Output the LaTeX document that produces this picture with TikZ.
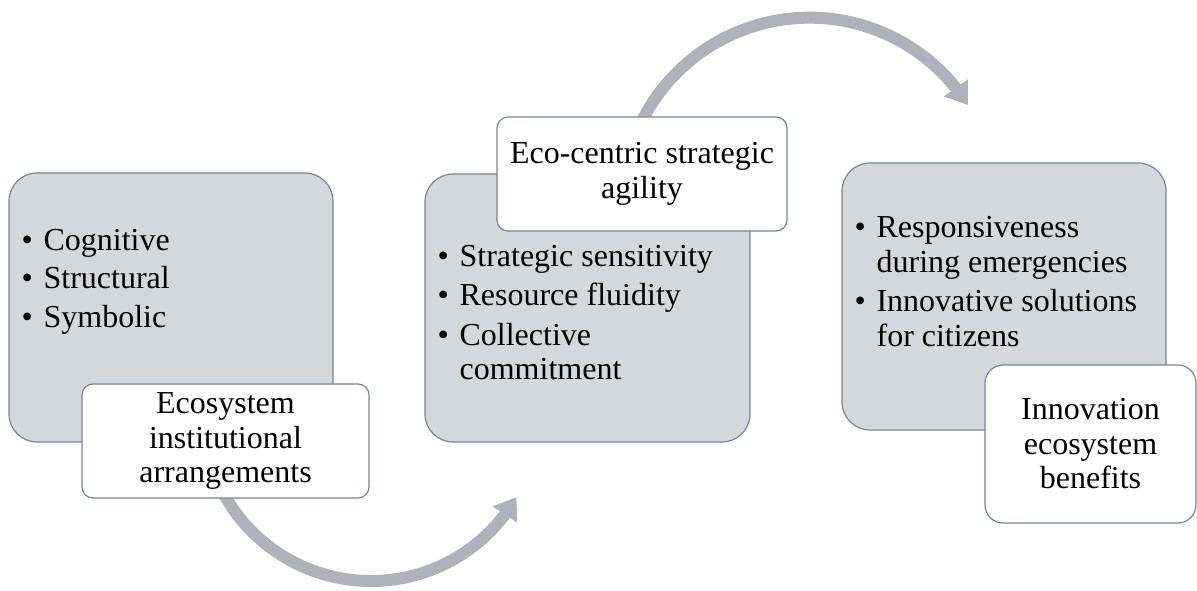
\documentclass[tikz,border=0pt]{standalone}
\usepackage{fontspec}
\setmainfont{Liberation Serif}
\usetikzlibrary{arrows.meta,bending}

\definecolor{boxfill}{RGB}{214,215,218}
\definecolor{boxline}{RGB}{124,133,150}
\definecolor{flowgray}{RGB}{176,178,184}

% bullet with hanging indent, and a continuation line aligned with the text
\newcommand\bul{\makebox[22pt][l]{\textbullet}}
\newcommand\cont{\hspace*{22pt}}

\tikzset{
  every node/.style={font=\fontsize{32}{34.5}\selectfont},
  graybox/.style={draw=boxline, line width=1.2pt, fill=boxfill,
    rounded corners=28pt, inner sep=0pt},
  labelbox/.style={draw=boxline, line width=1.2pt, fill=white,
    rounded corners=11pt, align=center, inner sep=0pt},
  listtext/.style={anchor=north west, align=left, inner sep=0pt},
  flow/.style={draw=flowgray, line width=12pt,
    -{Triangle[length=21pt,width=28pt]}},
}

\begin{document}
\begin{tikzpicture}[x=1pt,y=1pt]
  \fill[white] (0,0) rectangle (1197,590);
  \useasboundingbox (0,0) rectangle (1197,590);

  % centres of the two curved flow arrows
  \coordinate (c1) at (371,177);
  \coordinate (c2) at (809.5,384.8);

  % curved arrows, drawn first so the boxes cover their tails
  \draw[flow] ([shift={(205:168)}]c1) arc[start angle=205, end angle=330, radius=168];
  \draw[flow] ([shift={(156:187.5)}]c2) arc[start angle=156, end angle=32.3, radius=187.5];

  % grey content boxes
  \node[graybox, minimum width=324pt, minimum height=269pt] (box1) at (171,282.5) {};
  \node[graybox, minimum width=325pt, minimum height=268pt] (box2) at (587.5,282) {};
  \node[graybox, minimum width=324pt, minimum height=267pt] (box3) at (1004,293.5) {};

  % bullet lists
  \node[listtext, xshift=13pt, yshift=-53.5pt] (list1) at (box1.north west)
    {\strut\bul Cognitive\\[4pt]\strut\bul Structural\\[4pt]\strut\bul Symbolic};
  \node[listtext, xshift=13pt, yshift=-68.5pt] (list2) at (box2.north west)
    {\strut\bul Strategic sensitivity\\[5pt]\strut\bul Resource fluidity\\[5pt]\strut\bul Collective\\\strut\cont commitment};
  \node[listtext, xshift=13pt, yshift=-51.2pt] (list3) at (box3.north west)
    {\strut\bul Responsiveness\\\strut\cont during emergencies\\[5pt]\strut\bul Innovative solutions\\\strut\cont for citizens};

  % white title boxes
  \node[labelbox, minimum width=287pt, minimum height=114pt] (lab1) at (225.5,149)
    {Ecosystem\\institutional\\arrangements};
  \node[labelbox, minimum width=290pt, minimum height=114pt] (lab2) at (642,416)
    {Eco-centric strategic\\agility};
  \node[labelbox, rounded corners=18pt, minimum width=211pt, minimum height=158pt] (lab3) at (1090.5,146)
    {Innovation\\ecosystem\\benefits};
\end{tikzpicture}
\end{document}
